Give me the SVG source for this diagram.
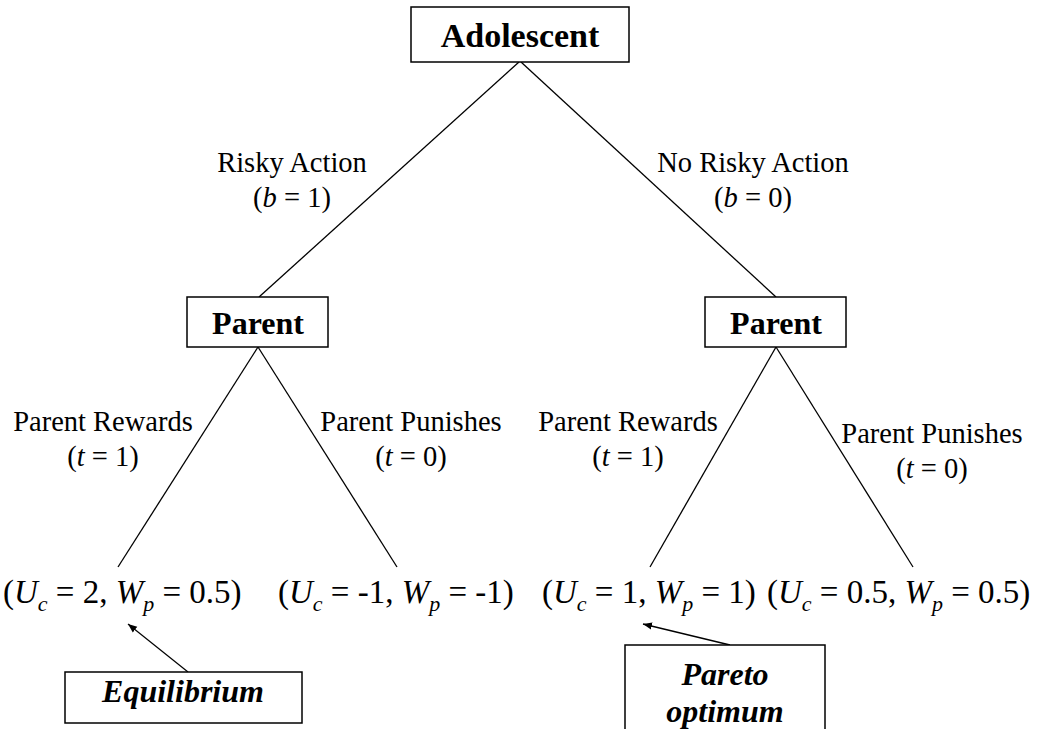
<svg xmlns="http://www.w3.org/2000/svg" width="1042" height="729" viewBox="0 0 1042 729">
<defs>
<style>
.box{fill:#fff;stroke:#000;stroke-width:1.5}
.ln{stroke:#000;stroke-width:1.3;fill:none}
.t{font-family:"Liberation Serif","Times New Roman",serif;fill:#000}
.lbl{font-size:28.5px}
.pay{font-size:33px}
.sub{font-size:22px;font-style:italic}
.it{font-style:italic}
.bold{font-weight:bold}
</style>
<marker id="ah" viewBox="0 0 10 10" refX="10" refY="5" markerWidth="9" markerHeight="9" markerUnits="userSpaceOnUse" orient="auto">
<path d="M0,1 L10,5 L0,9 z" fill="#000"/>
</marker>
</defs>
<rect width="1042" height="729" fill="#fff"/>
<g id="connectors">
<line class="ln" x1="519" y1="62" x2="259" y2="297"/>
<line class="ln" x1="521" y1="62" x2="776" y2="297"/>
<line class="ln" x1="258" y1="347" x2="118" y2="567"/>
<line class="ln" x1="258" y1="347" x2="397" y2="567"/>
<line class="ln" x1="776" y1="347" x2="650" y2="567"/>
<line class="ln" x1="776" y1="347" x2="913" y2="567"/>
<line class="ln" x1="188" y1="672" x2="128" y2="624" marker-end="url(#ah)"/>
<line class="ln" x1="730" y1="645" x2="643" y2="624" marker-end="url(#ah)"/>
</g>
<g id="labels" class="t lbl" text-anchor="middle">
<text x="292" y="172">Risky Action</text>
<text x="292" y="207">(<tspan class="it">b</tspan> = 1)</text>
<text x="753" y="172">No Risky Action</text>
<text x="753" y="207">(<tspan class="it">b</tspan> = 0)</text>
<text x="103" y="431">Parent Rewards</text>
<text x="103" y="466">(<tspan class="it">t</tspan> = 1)</text>
<text x="411" y="431">Parent Punishes</text>
<text x="411" y="466">(<tspan class="it">t</tspan> = 0)</text>
<text x="628" y="431">Parent Rewards</text>
<text x="628" y="466">(<tspan class="it">t</tspan> = 1)</text>
<text x="932" y="443">Parent Punishes</text>
<text x="932" y="478">(<tspan class="it">t</tspan> = 0)</text>
</g>
<g id="adolescent">
<rect class="box" x="411" y="7" width="218" height="55"/>
<text class="t bold" x="520" y="47" font-size="34" text-anchor="middle">Adolescent</text>
</g>
<g id="parent-left">
<rect class="box" x="187" y="297" width="141" height="50"/>
<text class="t bold" x="258" y="334" font-size="32" text-anchor="middle">Parent</text>
</g>
<g id="parent-right">
<rect class="box" x="705" y="297" width="141" height="50"/>
<text class="t bold" x="776" y="334" font-size="32" text-anchor="middle">Parent</text>
</g>
<g id="payoff-1">
<text class="t pay" x="3" y="603">(<tspan class="it">U</tspan><tspan class="sub" dy="8">c</tspan><tspan dy="-8"> = 2, </tspan><tspan class="it">W</tspan><tspan class="sub" dy="8">p</tspan><tspan dy="-8"> = 0.5)</tspan></text>
</g>
<g id="payoff-2">
<text class="t pay" x="278" y="603">(<tspan class="it">U</tspan><tspan class="sub" dy="8">c</tspan><tspan dy="-8"> = -1, </tspan><tspan class="it">W</tspan><tspan class="sub" dy="8">p</tspan><tspan dy="-8"> = -1)</tspan></text>
</g>
<g id="payoff-3">
<text class="t pay" x="542" y="603">(<tspan class="it">U</tspan><tspan class="sub" dy="8">c</tspan><tspan dy="-8"> = 1, </tspan><tspan class="it">W</tspan><tspan class="sub" dy="8">p</tspan><tspan dy="-8"> = 1)</tspan></text>
</g>
<g id="payoff-4">
<text class="t pay" x="767" y="603">(<tspan class="it">U</tspan><tspan class="sub" dy="8">c</tspan><tspan dy="-8"> = 0.5, </tspan><tspan class="it">W</tspan><tspan class="sub" dy="8">p</tspan><tspan dy="-8"> = 0.5)</tspan></text>
</g>
<g id="equilibrium">
<rect class="box" x="65" y="672" width="237" height="51"/>
<text class="t bold it" x="183" y="702" font-size="32" text-anchor="middle">Equilibrium</text>
</g>
<g id="pareto">
<rect class="box" x="625" y="645" width="200" height="100"/>
<text class="t bold it" x="725" y="685" font-size="32" text-anchor="middle">Pareto</text>
<text class="t bold it" x="725" y="722" font-size="32" text-anchor="middle">optimum</text>
</g>
</svg>
